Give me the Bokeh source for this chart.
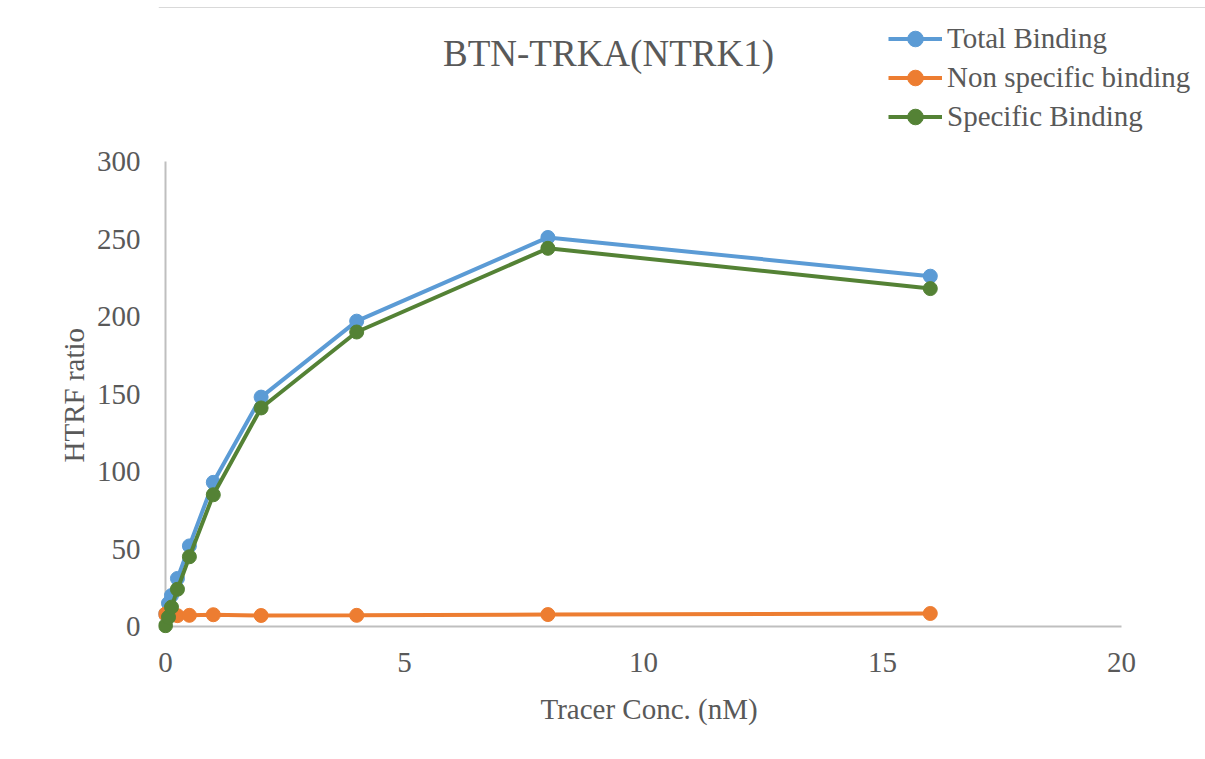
from bokeh.plotting import figure
from bokeh.models import Label, Legend, LegendItem, FixedTicker, Range1d, Title, Span
from bokeh.embed import file_html
from bokeh.resources import INLINE

# ---- data ----
tracer_conc = [0, 0.0625, 0.125, 0.25, 0.5, 1, 2, 4, 8, 16]
total_binding = [8, 15, 20, 31, 52, 93, 148, 197, 251, 226]
nonspecific_binding = [8, 8, 7.5, 7, 7.2, 7.6, 7.1, 7.2, 7.7, 8.4]
specific_binding = [0.5, 6, 12.5, 24, 45, 85, 141, 190, 244, 218]

series_names = ["Total Binding", "Non specific binding", "Specific Binding"]
series_colors = ["#5B9BD5", "#ED7D31", "#548235"]

x_ticks = [0, 5, 10, 15, 20]
y_ticks = [0, 50, 100, 150, 200, 250, 300]

title_text = "BTN-TRKA(NTRK1)"
x_label = "Tracer Conc. (nM)"
y_label = "HTRF ratio"

FONT = "Liberation Serif"
TXT = "#595959"
AX = "#BFBFBF"

# ---- layout geometry (pixels) ----
W, H = 1205, 759
PLOT_L, PLOT_R = 165, 1121      # x of data x_ticks[0] / x_ticks[-1]
PLOT_T, PLOT_B = 161, 626       # y of data y_ticks[-1] / y_ticks[0]
PAD = 7                         # room so markers at zero are not clipped
FR_L, FR_B = PLOT_L - PAD, PLOT_B + PAD

xs = (PLOT_R - PLOT_L) / (x_ticks[-1] - x_ticks[0])
ys = (PLOT_B - PLOT_T) / (y_ticks[-1] - y_ticks[0])
x_rng = Range1d(x_ticks[0] - PAD / xs, x_ticks[-1] + (W - PLOT_R) / xs)
y_rng = Range1d(y_ticks[0] - PAD / ys, y_ticks[-1] + PLOT_T / ys)

p = figure(width=W, height=H, output_backend="svg", toolbar_location=None,
           x_range=x_rng, y_range=y_rng,
           min_border_left=FR_L, min_border_right=0, min_border_top=0,
           min_border_bottom=H - FR_B)
p.background_fill_color = "white"
p.border_fill_color = "white"
p.outline_line_color = None
p.xgrid.visible = False
p.ygrid.visible = False

for ax, ticks in ((p.xaxis[0], x_ticks), (p.yaxis[0], y_ticks)):
    ax.ticker = FixedTicker(ticks=ticks)
    ax.axis_line_color = None
    ax.major_tick_line_color = None
    ax.minor_tick_line_color = None
    ax.major_label_text_font = FONT
    ax.major_label_text_font_size = "29px"
    ax.major_label_text_color = TXT

p.xaxis.major_label_standoff = 13
p.yaxis.major_label_standoff = 12

# axis titles as side titles so they centre on the plotted data area
xt = Title(text=x_label, align="left", offset=540 - FR_L, standoff=32,
           text_font=FONT, text_font_size="29px", text_color=TXT, text_font_style="normal")
p.add_layout(xt, "below")
yt = Title(text=y_label, align="left", offset=FR_B - 462, standoff=7,
           text_font=FONT, text_font_size="29px", text_color=TXT, text_font_style="normal")
p.add_layout(yt, "left")

# faint chart border line at top
p.add_layout(Span(location=FR_B - 7, location_units="screen", dimension="width",
                  line_color="#D9D9D9", line_width=1))

# axis lines at data zero (drawn from tick extents)
p.segment(x0=[x_ticks[0], x_ticks[0]], y0=[y_ticks[0], y_ticks[0]],
          x1=[x_ticks[0], x_ticks[-1]], y1=[y_ticks[-1], y_ticks[0]],
          line_color=AX, line_width=2)

items = []
for name, yv, col in zip(series_names, [total_binding, nonspecific_binding, specific_binding], series_colors):
    l = p.line(tracer_conc, yv, line_color=col, line_width=4)
    s = p.scatter(tracer_conc, yv, size=14, fill_color=col, line_color=col, line_width=1)
    items.append(LegendItem(label=name, renderers=[l, s]))

legend = Legend(items=items, location=(888 - FR_L, FR_B - 136), orientation="vertical")
legend.background_fill_alpha = 0
legend.border_line_alpha = 0
legend.padding = 0
legend.margin = 0
legend.spacing = 0
legend.glyph_width = 54
legend.glyph_height = 39
legend.label_height = 39
legend.label_standoff = 5
legend.label_text_font = FONT
legend.label_text_font_size = "29px"
legend.label_text_color = TXT
legend.label_text_baseline = "middle"
p.add_layout(legend, "center")

title = Label(x=608 - FR_L, y=FR_B - 53, x_units="screen", y_units="screen", text=title_text,
              text_font=FONT, text_font_size="37px", text_color=TXT,
              text_align="center", text_baseline="middle")
p.add_layout(title)

open("out.html", "w").write(file_html(p, INLINE))
